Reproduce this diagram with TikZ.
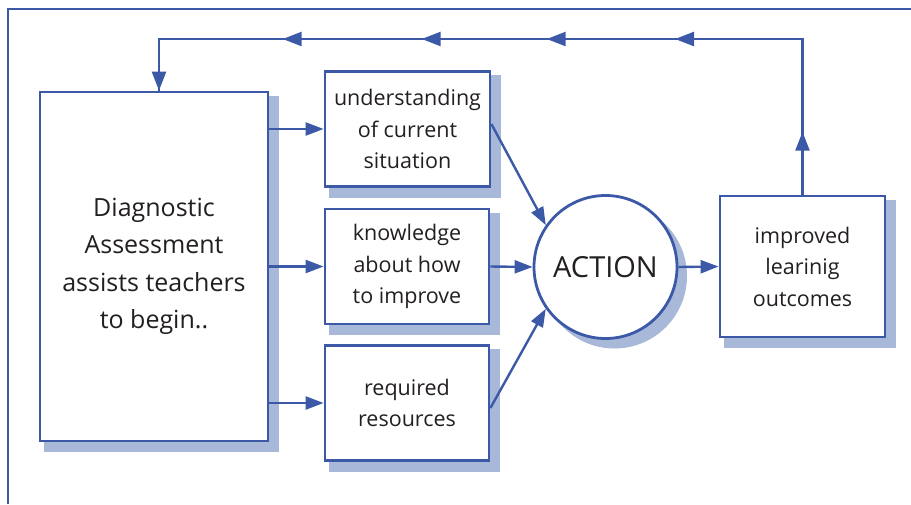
\documentclass[tikz,border=0pt]{standalone}
\usepackage{fontspec}
\setmainfont{Open Sans}
\usetikzlibrary{arrows.meta,calc,backgrounds}
\definecolor{lineblue}{RGB}{59,89,166}
\definecolor{shadowblue}{RGB}{168,184,216}
\definecolor{inkdark}{RGB}{35,31,32}
\tikzset{
  box/.style={draw=lineblue, line width=2.8pt, fill=white, align=center,
    text=inkdark, inner sep=0pt},
  bigtext/.style={font=\fontsize{25}{37.5}\selectfont},
  smalltext/.style={font=\fontsize{21.5}{31.5}\selectfont},
  conn/.style={draw=lineblue, line width=2.4pt,
    -{Triangle[length=18pt,width=13pt]}},
  plain/.style={draw=lineblue, line width=2.4pt},
  tipmark/.style={draw=lineblue, line width=2.4pt,
    -{Triangle[length=19pt,width=14pt]}},
}
\newcommand{\boxshadow}[1]{%
  \begin{pgfonlayer}{background}
    \fill[shadowblue] ($(#1.north west)+(5,5)$) rectangle ($(#1.south east)+(10,10)$);
  \end{pgfonlayer}}
\begin{document}
\begin{tikzpicture}[x=1pt,y=-1pt]
\useasboundingbox (0,0) rectangle (911,504);

% frame (only its left and top edges fall inside the page)
\draw[lineblue, line width=2.6pt] (8,504) -- (8,9) -- (911,9);

% boxes
\node[box, bigtext, minimum width=228pt, minimum height=349pt] (diag) at (154,266.5)
  {Diagnostic\\Assessment\\assists teachers\\to begin..};
\node[box, smalltext, minimum width=165pt, minimum height=115pt] (und) at (407.5,129)
  {understanding\\of current\\situation};
\node[box, smalltext, minimum width=164pt, minimum height=115pt] (know) at (407,266.5)
  {knowledge\\about how\\to improve};
\node[box, smalltext, minimum width=164pt, minimum height=115pt] (req) at (407,403)
  {required\\resources};
\node[box, circle, minimum size=143pt, font=\fontsize{29}{30}\selectfont] (act) at (605.5,267)
  {ACTION};
\node[box, smalltext, minimum width=165pt, minimum height=141pt] (impr) at (802.5,266.5)
  {improved\\learinig\\outcomes};

\boxshadow{diag}
\boxshadow{und}
\boxshadow{know}
\boxshadow{req}
\boxshadow{impr}
\begin{pgfonlayer}{background}
  \fill[shadowblue] ($(act.center)+(9,9)$) circle[radius=72.5];
\end{pgfonlayer}

% diagnostic box feeds the three inputs
\draw[conn] (diag.east |- und.west) -- (und.west);
\draw[conn] (diag.east |- know.west) -- (know.west);
\draw[conn] (diag.east |- req.west) -- (req.west);

% inputs lead to action
\draw[conn] ($(und.east)+(0,-5)$) -- (act.145);
\draw[conn] (know.east) -- (act.west);
\draw[conn] ($(req.east)+(0,5)$) -- (act.215);

% action to outcomes
\draw[conn] (act.east) -- (impr.west);

% feedback loop
\coordinate (fbR) at (impr.north |- 0,39);
\coordinate (fbL) at (159,39);
\coordinate (fbD) at (159,92);
\draw[plain] (impr.north) -- (fbR) -- (fbL) -- (fbD);
\coordinate (t1) at (802.5,131.7);
\draw[tipmark] ($(t1)+(0,19)$) -- (t1);
\foreach \x in {675,546.7,421.7,282.7}{
  \coordinate (tt) at (\x,39);
  \draw[tipmark] ($(tt)+(19,0)$) -- (tt);
}
\draw[tipmark] (fbL) -- (diag.north -| fbL);
\end{tikzpicture}
\end{document}
